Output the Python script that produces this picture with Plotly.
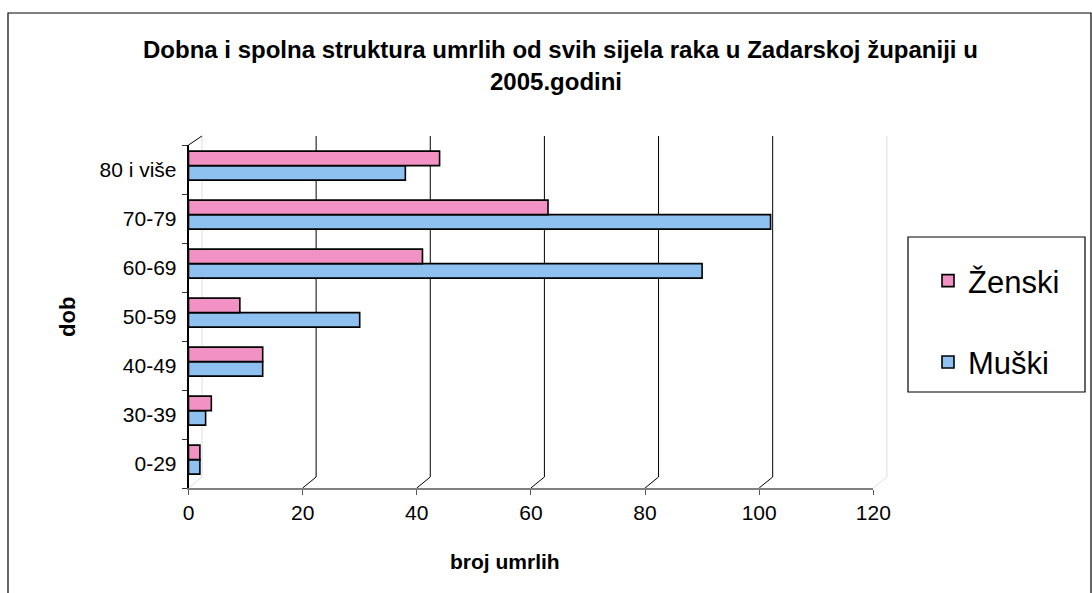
import plotly.graph_objects as go

# Age groups (bottom to top) and deaths by sex
dob = ["0-29", "30-39", "40-49", "50-59", "60-69", "70-79", "80 i više"]
muski = [2, 3, 13, 30, 90, 102, 38]
zenski = [2, 4, 13, 9, 41, 63, 44]

x_ticks = [0, 20, 40, 60, 80, 100, 120]

title_1 = "Dobna i spolna struktura umrlih od svih sijela raka u Zadarskoj županiji u"
title_2 = "2005.godini"
x_title = "broj umrlih"
y_title = "dob"

W, H = 1092, 593
FONT = "Liberation Sans, Arial, sans-serif"


def fx(px):
    return px / W


def fy(py):
    return 1 - py / H


# pixel geometry of the pseudo-3D plot box
FRONT_X0, FRONT_X1 = 188.5, 873.3      # value axis: 0 .. 120
FRONT_Y0, FRONT_Y1 = 145, 488          # category axis: top .. bottom
DEPTH_X, DEPTH_Y = 13.5, 11            # back wall offset
scale = (FRONT_X1 - FRONT_X0) / (x_ticks[-1] - x_ticks[0])

# bars sit slightly up in each band (between front and back planes)
BAR_W = 0.296
LIFT = 0.08

fig = go.Figure()
fig.add_trace(go.Bar(
    name="Muški", y=dob, x=muski, orientation="h",
    width=BAR_W, offset=LIFT - BAR_W,
    marker=dict(color="#8FC1F0", line=dict(color="black", width=1.6)),
    legendgroup="m", legendrank=2, hoverinfo="x+y",
))
fig.add_trace(go.Bar(
    name="Ženski", y=dob, x=zenski, orientation="h",
    width=BAR_W, offset=LIFT,
    marker=dict(color="#F291C4", line=dict(color="black", width=1.6)),
    legendgroup="z", legendrank=1, hoverinfo="x+y",
))

fig.update_layout(
    width=W, height=H,
    margin=dict(l=0, r=0, t=0, b=0, autoexpand=False),
    paper_bgcolor="white", plot_bgcolor="rgba(0,0,0,0)",
    font=dict(family=FONT, color="black", size=21),
    barmode="group",
    showlegend=True,
    legend=dict(
        x=fx(928), y=fy(254), xanchor="left", yanchor="top",
        bgcolor="rgba(0,0,0,0)", borderwidth=0,
        font=dict(size=31, family=FONT),
        traceorder="grouped", tracegroupgap=38,
    ),
    xaxis=dict(
        domain=[fx(FRONT_X0), fx(FRONT_X1)], range=[0, 120], anchor="y",
        tickvals=x_ticks, ticktext=[str(v) for v in x_ticks],
        ticks="outside", ticklen=5, tickcolor="#555555",
        showgrid=False, zeroline=False, automargin=False,
        showline=True, linecolor="#808080", linewidth=2,
        tickfont=dict(size=21), fixedrange=True,
    ),
    yaxis=dict(
        domain=[fy(FRONT_Y1), fy(FRONT_Y0)], anchor="x", type="category",
        categoryorder="array", categoryarray=dob,
        tickson="boundaries", ticks="outside", ticklen=5, tickcolor="#333333",
        showgrid=False, zeroline=False, automargin=False,
        showline=True, linecolor="#000000", linewidth=1.5,
        ticklabelstandoff=6,
        tickfont=dict(size=21), fixedrange=True,
    ),
)

shapes = []
# outer chart frame
shapes.append(dict(type="rect", xref="paper", yref="paper",
                   x0=fx(8), x1=fx(1091), y0=fy(H + 20), y1=fy(13),
                   line=dict(color="#000000", width=1.2), layer="below"))
# legend box
shapes.append(dict(type="rect", xref="paper", yref="paper",
                   x0=fx(908), x1=fx(1085), y0=fy(392), y1=fy(237),
                   line=dict(color="#000000", width=1.2)))
# back wall gridlines and floor diagonals at each value tick
for v in x_ticks:
    px = FRONT_X0 + v * scale
    inner = x_ticks[0] < v < x_ticks[-1]
    col = "#000000" if inner else "#DDDDDD"
    shapes.append(dict(type="line", xref="paper", yref="paper", layer="below",
                       x0=fx(px + DEPTH_X), y0=fy(FRONT_Y1 - DEPTH_Y),
                       x1=fx(px + DEPTH_X), y1=fy(FRONT_Y0 - DEPTH_Y + 2),
                       line=dict(color=col, width=1)))
    shapes.append(dict(type="line", xref="paper", yref="paper", layer="below",
                       x0=fx(px), y0=fy(FRONT_Y1),
                       x1=fx(px + DEPTH_X), y1=fy(FRONT_Y1 - DEPTH_Y),
                       line=dict(color=col, width=1)))
# top edge of the category axis receding to the back wall
shapes.append(dict(type="line", xref="paper", yref="paper",
                   x0=fx(FRONT_X0), y0=fy(FRONT_Y0),
                   x1=fx(FRONT_X0 + DEPTH_X), y1=fy(FRONT_Y0 - DEPTH_Y + 2),
                   line=dict(color="#000000", width=1)))
fig.update_layout(shapes=shapes)

annotations = [
    dict(text=f"<b>{title_1}</b>", x=fx(560), y=fy(50), xref="paper", yref="paper",
         showarrow=False, font=dict(size=24, family=FONT), xanchor="center", yanchor="middle"),
    dict(text=f"<b>{title_2}</b>", x=fx(556), y=fy(81), xref="paper", yref="paper",
         showarrow=False, font=dict(size=24, family=FONT), xanchor="center", yanchor="middle"),
    dict(text=f"<b>{x_title}</b>", x=fx(505), y=fy(561), xref="paper", yref="paper",
         showarrow=False, font=dict(size=21, family=FONT), xanchor="center", yanchor="middle"),
    dict(text=f"<b>{y_title}</b>", x=fx(68), y=fy(317), xref="paper", yref="paper",
         showarrow=False, textangle=-90, font=dict(size=22, family=FONT),
         xanchor="center", yanchor="middle"),
]
fig.update_layout(annotations=annotations)

fig.write_html("out.html")
